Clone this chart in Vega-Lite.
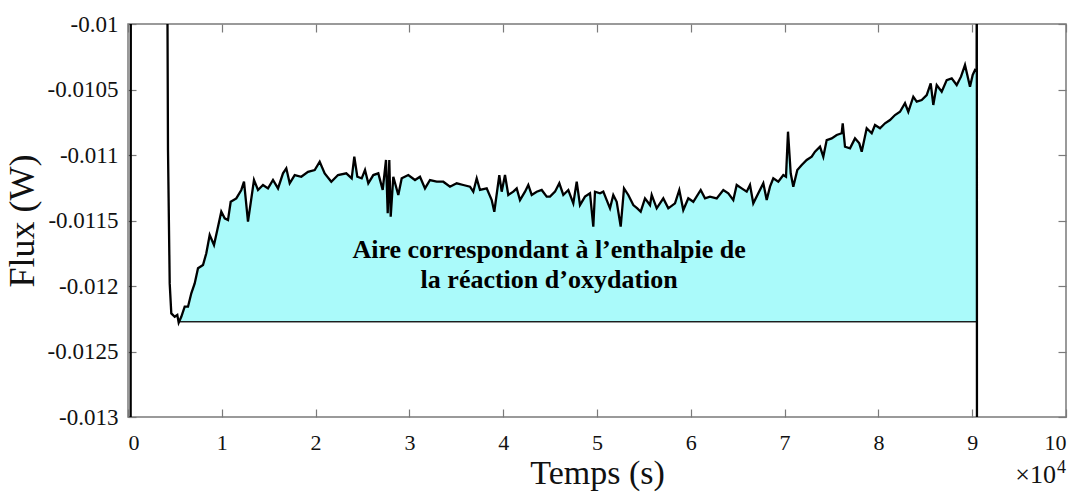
{
  "$schema": "https://vega.github.io/schema/vega-lite/v6.json",
  "width": 938,
  "height": 393,
  "autosize": {"type": "none"},
  "padding": {"left": 128, "top": 24, "right": 13, "bottom": 78},
  "background": "white",
  "config": {
    "view": {"stroke": "#7a7a7a", "strokeWidth": 1.5},
    "font": "Liberation Serif",
    "axis": {"domain": false, "grid": false, "tickColor": "#7a7a7a", "tickWidth": 1.2, "labelFont": "Liberation Serif", "titleFont": "Liberation Serif", "labelColor": "#111", "titleColor": "#111", "titleFontWeight": "normal"}
  },
  "datasets": {
    "flux": [
      {"t": 280, "flux": -0.0135}, {"t": 300, "flux": -0.0095}, {"t": 4150, "flux": -0.0095},
      {"t": 4211, "flux": -0.0100}, {"t": 4264, "flux": -0.010962}, {"t": 4446, "flux": -0.011980},
      {"t": 4616, "flux": -0.012209}, {"t": 4979, "flux": -0.012235}, {"t": 5256, "flux": -0.012221},
      {"t": 5405, "flux": -0.012280}, {"t": 5682, "flux": -0.012235}, {"t": 6045, "flux": -0.012158},
      {"t": 6397, "flux": -0.012158}, {"t": 6749, "flux": -0.012056}, {"t": 7111, "flux": -0.011980},
      {"t": 7463, "flux": -0.011865}, {"t": 7996, "flux": -0.011840}, {"t": 8348, "flux": -0.011750},
      {"t": 8710, "flux": -0.011611}, {"t": 9168, "flux": -0.011687}, {"t": 9520, "flux": -0.011573},
      {"t": 9947, "flux": -0.011433}, {"t": 10309, "flux": -0.011483}, {"t": 10661, "flux": -0.011496},
      {"t": 10949, "flux": -0.011357}, {"t": 11546, "flux": -0.011331}, {"t": 12079, "flux": -0.011267},
      {"t": 12367, "flux": -0.011204}, {"t": 12793, "flux": -0.011509}, {"t": 13433, "flux": -0.011191},
      {"t": 13859, "flux": -0.011267}, {"t": 14392, "flux": -0.011229}, {"t": 14925, "flux": -0.011255},
      {"t": 15458, "flux": -0.011191}, {"t": 15992, "flux": -0.011255}, {"t": 16525, "flux": -0.011140},
      {"t": 16876, "flux": -0.011102}, {"t": 17239, "flux": -0.011216}, {"t": 17772, "flux": -0.011153},
      {"t": 18476, "flux": -0.011166}, {"t": 19190, "flux": -0.011128}, {"t": 19904, "flux": -0.011115},
      {"t": 20437, "flux": -0.011051}, {"t": 20970, "flux": -0.011140}, {"t": 21674, "flux": -0.011204},
      {"t": 22388, "flux": -0.011153}, {"t": 23273, "flux": -0.011140}, {"t": 23849, "flux": -0.011178},
      {"t": 24126, "flux": -0.011013}, {"t": 24446, "flux": -0.011166}, {"t": 24915, "flux": -0.011178},
      {"t": 25267, "flux": -0.011115}, {"t": 25619, "flux": -0.011216}, {"t": 26152, "flux": -0.011153},
      {"t": 26685, "flux": -0.011140}, {"t": 27154, "flux": -0.011267}, {"t": 27505, "flux": -0.011038},
      {"t": 27687, "flux": -0.011445}, {"t": 27857, "flux": -0.011038}, {"t": 28007, "flux": -0.011471},
      {"t": 28284, "flux": -0.011166}, {"t": 28817, "flux": -0.011305}, {"t": 29180, "flux": -0.011178},
      {"t": 29883, "flux": -0.011153}, {"t": 30597, "flux": -0.011191}, {"t": 31130, "flux": -0.011166},
      {"t": 31663, "flux": -0.011255}, {"t": 32196, "flux": -0.011191}, {"t": 32911, "flux": -0.011204},
      {"t": 33614, "flux": -0.011204}, {"t": 34328, "flux": -0.011242}, {"t": 35042, "flux": -0.011216},
      {"t": 35746, "flux": -0.011229}, {"t": 36461, "flux": -0.011242}, {"t": 36812, "flux": -0.011280},
      {"t": 37175, "flux": -0.011178}, {"t": 37527, "flux": -0.011267}, {"t": 38241, "flux": -0.011255},
      {"t": 38774, "flux": -0.011344}, {"t": 39051, "flux": -0.011433}, {"t": 39584, "flux": -0.011153},
      {"t": 39840, "flux": -0.011280}, {"t": 40192, "flux": -0.011153}, {"t": 40544, "flux": -0.011305},
      {"t": 41077, "flux": -0.011280}, {"t": 41440, "flux": -0.011255}, {"t": 41791, "flux": -0.011344},
      {"t": 42324, "flux": -0.011280}, {"t": 42676, "flux": -0.011229}, {"t": 43039, "flux": -0.011305},
      {"t": 43572, "flux": -0.011280}, {"t": 44105, "flux": -0.011267}, {"t": 44638, "flux": -0.011318},
      {"t": 44990, "flux": -0.011318}, {"t": 45523, "flux": -0.011280}, {"t": 45982, "flux": -0.011216},
      {"t": 46408, "flux": -0.011305}, {"t": 46941, "flux": -0.011267}, {"t": 47474, "flux": -0.011369},
      {"t": 47837, "flux": -0.011204}, {"t": 48188, "flux": -0.011382}, {"t": 48721, "flux": -0.011318},
      {"t": 49254, "flux": -0.011292}, {"t": 49606, "flux": -0.011547}, {"t": 49787, "flux": -0.011280},
      {"t": 50320, "flux": -0.011292}, {"t": 50672, "flux": -0.011280}, {"t": 51035, "flux": -0.011344},
      {"t": 51386, "flux": -0.011407}, {"t": 51738, "flux": -0.011305}, {"t": 52100, "flux": -0.011357},
      {"t": 52527, "flux": -0.011547}, {"t": 52879, "flux": -0.011255}, {"t": 53337, "flux": -0.011305},
      {"t": 53870, "flux": -0.011382}, {"t": 54297, "flux": -0.011407}, {"t": 54659, "flux": -0.011433},
      {"t": 55117, "flux": -0.011331}, {"t": 55650, "flux": -0.011382}, {"t": 55832, "flux": -0.011305},
      {"t": 56365, "flux": -0.011407}, {"t": 57068, "flux": -0.011331}, {"t": 57601, "flux": -0.011407},
      {"t": 58316, "flux": -0.011369}, {"t": 58774, "flux": -0.011267}, {"t": 59201, "flux": -0.011420},
      {"t": 59734, "flux": -0.011331}, {"t": 60267, "flux": -0.011357}, {"t": 61056, "flux": -0.011267},
      {"t": 61514, "flux": -0.011331}, {"t": 62047, "flux": -0.011318}, {"t": 62762, "flux": -0.011331},
      {"t": 63465, "flux": -0.011267}, {"t": 63998, "flux": -0.011292}, {"t": 64531, "flux": -0.011344},
      {"t": 64894, "flux": -0.011229}, {"t": 65427, "flux": -0.011255}, {"t": 65960, "flux": -0.011280},
      {"t": 66311, "flux": -0.011229}, {"t": 66663, "flux": -0.011369}, {"t": 67196, "flux": -0.011292},
      {"t": 67730, "flux": -0.011216}, {"t": 68092, "flux": -0.011344}, {"t": 68444, "flux": -0.011242},
      {"t": 68796, "flux": -0.011178}, {"t": 69329, "flux": -0.011204}, {"t": 69862, "flux": -0.011153},
      {"t": 70149, "flux": -0.011166}, {"t": 70363, "flux": -0.010822}, {"t": 70651, "flux": -0.011140},
      {"t": 70928, "flux": -0.011242}, {"t": 71354, "flux": -0.011115}, {"t": 71823, "flux": -0.011076},
      {"t": 72356, "flux": -0.011038}, {"t": 72889, "flux": -0.011013}, {"t": 73241, "flux": -0.010975},
      {"t": 73774, "flux": -0.010937}, {"t": 74126, "flux": -0.011013}, {"t": 74488, "flux": -0.010886},
      {"t": 75022, "flux": -0.010873}, {"t": 75555, "flux": -0.010847}, {"t": 76088, "flux": -0.010834},
      {"t": 76195, "flux": -0.010758}, {"t": 76440, "flux": -0.010937}, {"t": 76973, "flux": -0.010949},
      {"t": 77506, "flux": -0.010873}, {"t": 77965, "flux": -0.010911}, {"t": 78220, "flux": -0.010975},
      {"t": 78753, "flux": -0.010796}, {"t": 79286, "flux": -0.010834}, {"t": 79638, "flux": -0.010771},
      {"t": 80171, "flux": -0.010796}, {"t": 80704, "flux": -0.010758}, {"t": 81237, "flux": -0.010733},
      {"t": 81770, "flux": -0.010695}, {"t": 82303, "flux": -0.010670}, {"t": 82836, "flux": -0.010605},
      {"t": 83188, "flux": -0.010670}, {"t": 83721, "flux": -0.010555}, {"t": 84084, "flux": -0.010593},
      {"t": 84617, "flux": -0.010580}, {"t": 85150, "flux": -0.010542}, {"t": 85576, "flux": -0.010453},
      {"t": 85853, "flux": -0.010618}, {"t": 86216, "flux": -0.010466}, {"t": 86749, "flux": -0.010517},
      {"t": 87282, "flux": -0.010428}, {"t": 87815, "flux": -0.010415}, {"t": 88348, "flux": -0.010466},
      {"t": 88806, "flux": -0.010402}, {"t": 89232, "flux": -0.010313}, {"t": 89478, "flux": -0.010389},
      {"t": 89765, "flux": -0.010479}, {"t": 90053, "flux": -0.010389}, {"t": 90298, "flux": -0.010351},
      {"t": 90470, "flux": -0.010360}, {"t": 90490, "flux": -0.0095}, {"t": 90510, "flux": -0.0135}
    ],
    "notes": [
      {"t": 44900, "flux": -0.011786, "label": "Aire correspondant à l’enthalpie de"},
      {"t": 44900, "flux": -0.012015, "label": "la réaction d’oxydation"}
    ],
    "mult": [
      {"t": 98934, "flux": -0.013504, "label": "×10", "part": "base"},
      {"t": 99040, "flux": -0.013428, "label": "4", "part": "exp"}
    ]
  },
  "layer": [
    {
      "data": {"name": "flux"},
      "transform": [{"filter": "datum.t >= 5405 && datum.t <= 90470"}],
      "mark": {"type": "area", "color": "#aafafa", "clip": true},
      "encoding": {
        "x": {"field": "t", "type": "quantitative", "axis": null},
        "y": {"field": "flux", "type": "quantitative", "axis": null},
        "y2": {"datum": -0.012273}
      }
    },
    {
      "data": {"name": "notes"},
      "mark": {"type": "rule", "color": "#111", "strokeWidth": 1.2},
      "encoding": {
        "x": {"datum": 5405, "type": "quantitative", "axis": {"orient": "top", "values": [0,10000,20000,30000,40000,50000,60000,70000,80000,90000,100000], "labels": false, "tickSize": -8, "title": null}},
        "x2": {"datum": 90480},
        "y": {"datum": -0.012273, "type": "quantitative", "axis": {"orient": "right", "values": [-0.013,-0.0125,-0.012,-0.0115,-0.011,-0.0105,-0.01], "labels": false, "tickSize": -8, "title": null}}
      }
    },
    {
      "data": {"name": "flux"},
      "mark": {"type": "line", "color": "#000", "strokeWidth": 2.3, "clip": true},
      "encoding": {
        "x": {"field": "t", "type": "quantitative",
          "scale": {"domain": [0, 100000], "nice": false, "zero": false},
          "axis": {"orient": "bottom", "values": [0,10000,20000,30000,40000,50000,60000,70000,80000,90000,100000], "tickSize": -8, "labelPadding": 23, "labelFont": "Liberation Serif", "labelFontSize": 22, "labelExpr": "format(datum.value / 10000, 'd')", "title": "Temps (s)", "titleFont": "Liberation Serif", "titleFontSize": 34, "titlePadding": 3}},
        "y": {"field": "flux", "type": "quantitative",
          "scale": {"domain": [-0.013, -0.01], "nice": false, "zero": false},
          "axis": {"orient": "left", "values": [-0.013,-0.0125,-0.012,-0.0115,-0.011,-0.0105,-0.01], "tickSize": -8, "labelPadding": 18, "labelFont": "Liberation Serif", "labelFontSize": 23, "labelExpr": "'-' + format(abs(datum.value), '.4~f')", "title": "Flux (W)", "titleFont": "Liberation Serif", "titleFontSize": 36, "titlePadding": 6}}
      }
    },
    {
      "data": {"name": "notes"},
      "mark": {"type": "text", "font": "Liberation Serif", "fontWeight": "bold", "fontSize": 26, "align": "center", "baseline": "alphabetic", "color": "#000"},
      "encoding": {
        "x": {"field": "t", "type": "quantitative", "axis": null},
        "y": {"field": "flux", "type": "quantitative", "axis": null},
        "text": {"field": "label"}
      }
    },
    {
      "data": {"name": "mult"},
      "transform": [{"filter": "datum.part == 'base'"}],
      "mark": {"type": "text", "font": "Liberation Serif", "fontSize": 26, "align": "right", "baseline": "alphabetic", "color": "#111"},
      "encoding": {
        "x": {"field": "t", "type": "quantitative", "axis": null},
        "y": {"field": "flux", "type": "quantitative", "axis": null},
        "text": {"field": "label"}
      }
    },
    {
      "data": {"name": "mult"},
      "transform": [{"filter": "datum.part == 'exp'"}],
      "mark": {"type": "text", "font": "Liberation Serif", "fontSize": 18, "align": "left", "baseline": "alphabetic", "color": "#111"},
      "encoding": {
        "x": {"field": "t", "type": "quantitative", "axis": null},
        "y": {"field": "flux", "type": "quantitative", "axis": null},
        "text": {"field": "label"}
      }
    }
  ],
  "resolve": {"axis": {"x": "independent", "y": "independent"}}
}
